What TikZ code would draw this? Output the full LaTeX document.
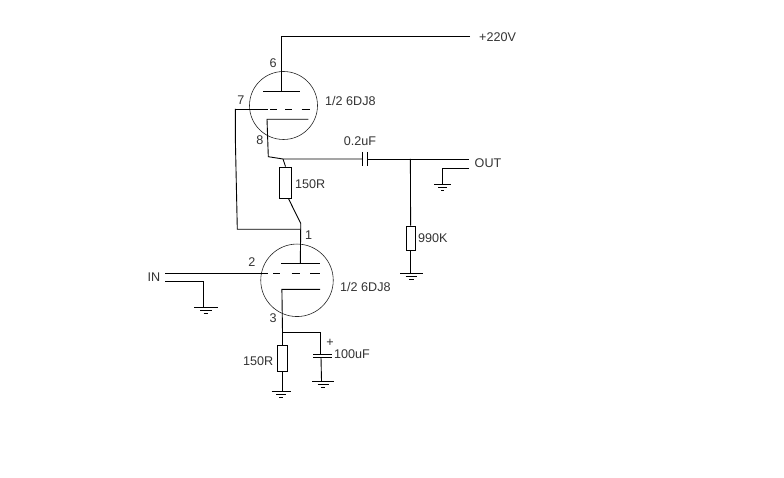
\documentclass[tikz,border=0pt]{standalone}
\usepackage{fontspec}
\setmainfont{Liberation Sans}
\tikzset{
  wire/.style={draw=black,line width=0.9pt,line join=miter},
  valve/.style={circle,draw=black!85,line width=0.6pt,inner sep=0pt,minimum size=#1},
  resbox/.style={rectangle,draw=black,line width=0.9pt,inner sep=0pt,minimum width=#1},
  lbl/.style={inner sep=0pt,text=black!80,font=\fontsize{12.6}{14}\selectfont},
  lbll/.style={lbl,anchor=west}
}
\newcommand{\earth}[3]{%
  \draw[wire] (#1-#3,#2) -- (#1+#3,#2);
  \draw[wire,line width=0.7pt] (#1-#3*0.5,#2+3) -- (#1+#3*0.5,#2+3);
  \draw[wire,line width=0.6pt] (#1-#3*0.2,#2+6) -- (#1+#3*0.2,#2+6);
}
\begin{document}
\begin{tikzpicture}[x=1pt,y=-1pt]
\useasboundingbox[fill=white] (0,0) rectangle (784,478);
% valves
\node[valve=68pt] (V1) at (283.5,105.5) {};
\node[valve=72.5pt] (V2) at (297,280.3) {};
% resistors
\node[resbox=12.4pt,minimum height=31.3pt] (R1) at (285.5,182.7) {};
\node[resbox=9.6pt,minimum height=26pt] (R2) at (282.5,358.3) {};
\node[resbox=9.3pt,minimum height=24pt] (R3) at (410.6,238) {};
% named points
\coordinate (supply) at (470,36);
\coordinate (a1) at (281.5,91.7);
\coordinate (g1) at (235.3,109);
\coordinate (k1) at (267,119.3);
\coordinate (j1) at (283,159);
\coordinate (c1a) at (362.3,159);
\coordinate (c1b) at (367.3,159);
\coordinate (j2) at (410.4,159);
\coordinate (out) at (469,159);
\coordinate (outg) at (469,168.3);
\coordinate (j3) at (300.7,229.3);
\coordinate (a2) at (300.3,263.3);
\coordinate (k2) at (281.9,289.3);
\coordinate (j4) at (282.5,332.3);
\coordinate (in) at (165,273.3);
\coordinate (ing) at (165,281.3);
\coordinate (g2) at (282.5,391.7);
% top valve
\draw[wire] (supply) -- (281.5,36) -- (a1);
\draw[wire] (263.3,91.7) -- (300,91.7);
\draw[wire] (g1) -- (267.7,109);
\draw[wire] (270,109) -- (277.3,109) (285,109) -- (291.7,109) (301.7,109) -- (310,109);
\draw[wire] (308.3,119.3) -- (k1) -- (268.3,156.7) -- (j1) -- (c1a);
\draw[wire] (c1a |- 0,152) -- (c1a |- 0,166.5);
\draw[wire] (c1b |- 0,152) -- (c1b |- 0,166.5);
\draw[wire] (c1b) -- (out);
\draw[wire] (j1) -- (R1.north);
\draw[wire] (288.3,198.3) -- (300.7,223.3) -- (j3) -- (237.3,229.3) -- (235.3,136.7) -- (g1);
% bottom valve
\draw[wire] (j3) -- (a2);
\draw[wire] (281,263.3) -- (320,263.3);
\draw[wire] (in) -- (268,273.3);
\draw[wire] (273,273.3) -- (280,273.3) (291.7,273.3) -- (300,273.3) (310,273.3) -- (320,273.3);
\draw[wire] (320,289.3) -- (k2) -- (j4) -- (R2.north);
\draw[wire] (j4) -- (320.5,332.3) -- (320.5,354);
\draw[wire] (313.3,354) -- (331.7,354);
\draw[wire] (313.3,357.5) -- (331.7,357.5);
\draw[wire] (321,357.5) -- (321.5,381);
\earth{323}{381}{11}
\draw[wire] (R2.south) -- (g2);
\earth{281}{391.7}{9.5}
% input
\draw[wire] (ing) -- (203.3,281.3) -- (203.3,307.3);
\earth{206}{307.3}{11.8}
% output
\draw[wire] (outg) -- (442.3,168.3) -- (442.3,184);
\earth{442.7}{184}{8.5}
\draw[wire] (j2) -- (R3.north);
\draw[wire] (R3.south) -- (410.6,273.3);
\earth{411.3}{273.3}{11.3}
% labels
\node[lbll] (tsup) at (479,37) {+220V};
\node[lbl] (t6) at (273,63) {6};
\node[lbl] (t7) at (241,100) {7};
\node[lbl] (t8) at (260,140) {8};
\node[lbll] (tv1) at (325,100.5) {1/2 6DJ8};
\node[lbl] (tc1) at (360,141.5) {0.2uF};
\node[lbll] (tr1) at (295,184) {150R};
\node[lbl] (t1) at (308.5,235) {1};
\node[lbl] (t2) at (252,262) {2};
\node[lbl] (tin) at (154,277.5) {IN};
\node[lbl] (t3) at (273,318) {3};
\node[lbll] (tv2) at (340,287) {1/2 6DJ8};
\node[lbl] (tplus) at (330,343) {+};
\node[lbll] (tc2) at (334,354) {100uF};
\node[lbll] (tr2) at (243,361) {150R};
\node[lbll] (tr3) at (418,238) {990K};
\node[lbll] (tout) at (474.5,163) {OUT};
\end{tikzpicture}
\end{document}
